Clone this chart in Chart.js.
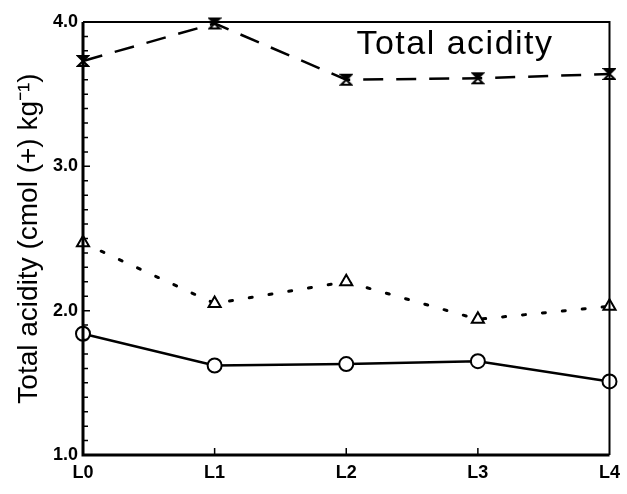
<!DOCTYPE html>
<html lang="en">
<head>
  <meta charset="UTF-8">
  <title>Total acidity</title>
  <script src="https://cdn.jsdelivr.net/npm/chart.js"></script>
  <style>
    html, body { margin: 0; padding: 0; background: #fff; }
    #wrap { width: 627px; height: 494px; }
  </style>
</head>
<body>
<div id="wrap"><canvas id="acidChart" width="627" height="494"></canvas></div>
<script>
  const levels = ['L0', 'L1', 'L2', 'L3', 'L4'];
  const upperSeries = [3.73, 3.99, 3.60, 3.61, 3.64];
  const middleSeries = [2.47, 2.05, 2.20, 1.94, 2.03];
  const lowerSeries = [1.84, 1.62, 1.63, 1.65, 1.51];
  const yLabels = [1.0, 2.0, 3.0, 4.0];

  // hourglass marker for the top series
  function hourglass() {
    const c = document.createElement('canvas');
    c.width = 14; c.height = 14;
    const g = c.getContext('2d');
    g.fillStyle = '#000';
    g.strokeStyle = '#000';
    g.lineWidth = 2;
    g.beginPath();
    g.moveTo(2, 2); g.lineTo(12, 2); g.lineTo(2, 12); g.lineTo(12, 12); g.closePath();
    g.stroke();
    g.beginPath();
    g.moveTo(3, 2); g.lineTo(11, 2); g.lineTo(7, 7); g.closePath();
    g.fill();
    return c;
  }

  const frame = {
    id: 'frame',
    afterDraw(chart) {
      const { ctx, chartArea: a, scales } = chart;
      ctx.save();
      ctx.strokeStyle = '#000';
      ctx.lineWidth = 2;
      ctx.beginPath();
      ctx.moveTo(a.left, a.top); ctx.lineTo(a.right, a.top); ctx.lineTo(a.right, a.bottom);
      ctx.stroke();
      ctx.lineWidth = 3;
      ctx.beginPath();
      ctx.moveTo(a.left, a.top); ctx.lineTo(a.left, a.bottom); ctx.lineTo(a.right, a.bottom);
      ctx.stroke();
      // inward minor ticks
      ctx.lineWidth = 1.5;
      ctx.beginPath();
      for (let v = 1.1; v < 4.0; v += 0.1) {
        const y = scales.y.getPixelForValue(v);
        const major = Math.abs(v - Math.round(v)) < 0.01;
        ctx.moveTo(a.left, y); ctx.lineTo(a.left + (major ? 7 : 5), y);
      }
      for (let i = 1; i < levels.length - 1; i++) {
        const x = scales.x.getPixelForValue(i);
        ctx.moveTo(x, a.bottom); ctx.lineTo(x, a.bottom - 7);
      }
      ctx.stroke();
      ctx.fillStyle = '#000';
      ctx.font = '34px "Liberation Sans", Arial, sans-serif';
      ctx.letterSpacing = '1.5px';
      ctx.textAlign = 'center';
      ctx.textBaseline = 'middle';
      ctx.fillText('Total acidity', 455, 45);
      ctx.restore();
    }
  };

  new Chart(document.getElementById('acidChart'), {
    type: 'line',
    data: {
      labels: levels,
      datasets: [
        {
          data: upperSeries,
          borderColor: '#000',
          borderWidth: 2.5,
          borderDash: [20, 13],
          pointStyle: hourglass(),
          pointRadius: 6,
          clip: false
        },
        {
          data: middleSeries,
          borderColor: '#000',
          borderWidth: 3,
          borderDash: [3, 17],
          borderCapStyle: 'round',
          pointStyle: 'triangle',
          pointRadius: 7,
          pointBorderWidth: 2,
          pointBackgroundColor: '#fff'
        },
        {
          data: lowerSeries,
          borderColor: '#000',
          borderWidth: 2.5,
          pointStyle: 'circle',
          pointRadius: 7,
          pointBorderWidth: 2,
          pointBackgroundColor: '#fff',
          clip: false
        }
      ]
    },
    options: {
      responsive: false,
      animation: false,
      layout: { padding: { top: 22, right: 17, left: 0, bottom: 0 } },
      plugins: { legend: { display: false }, tooltip: { enabled: false } },
      scales: {
        x: {
          offset: false,
          grid: { display: false, drawTicks: false },
          border: { display: false },
          ticks: {
            color: '#000',
            padding: 7,
            maxRotation: 0,
            font: { family: '"Liberation Sans", Arial, sans-serif', size: 18, weight: 'bold' }
          },
          afterFit(s) { s.height = 39; }
        },
        y: {
          min: 1.0,
          max: 4.0,
          afterBuildTicks(s) { s.ticks = yLabels.map(v => ({ value: v })); },
          grid: { display: false, drawTicks: false },
          border: { display: false },
          ticks: {
            color: '#000',
            padding: 5,
            callback: v => v.toFixed(1),
            font: { family: '"Liberation Sans", Arial, sans-serif', size: 18, weight: 'bold' }
          },
          title: {
            display: true,
            text: 'Total acidity (cmol (+) kg⁻¹)',
            color: '#000',
            padding: { top: 12, bottom: 0 },
            font: { family: '"Liberation Sans", Arial, sans-serif', size: 28 }
          },
          afterFit(s) { s.width = 83; }
        }
      }
    },
    plugins: [frame]
  });
</script>
</body>
</html>
